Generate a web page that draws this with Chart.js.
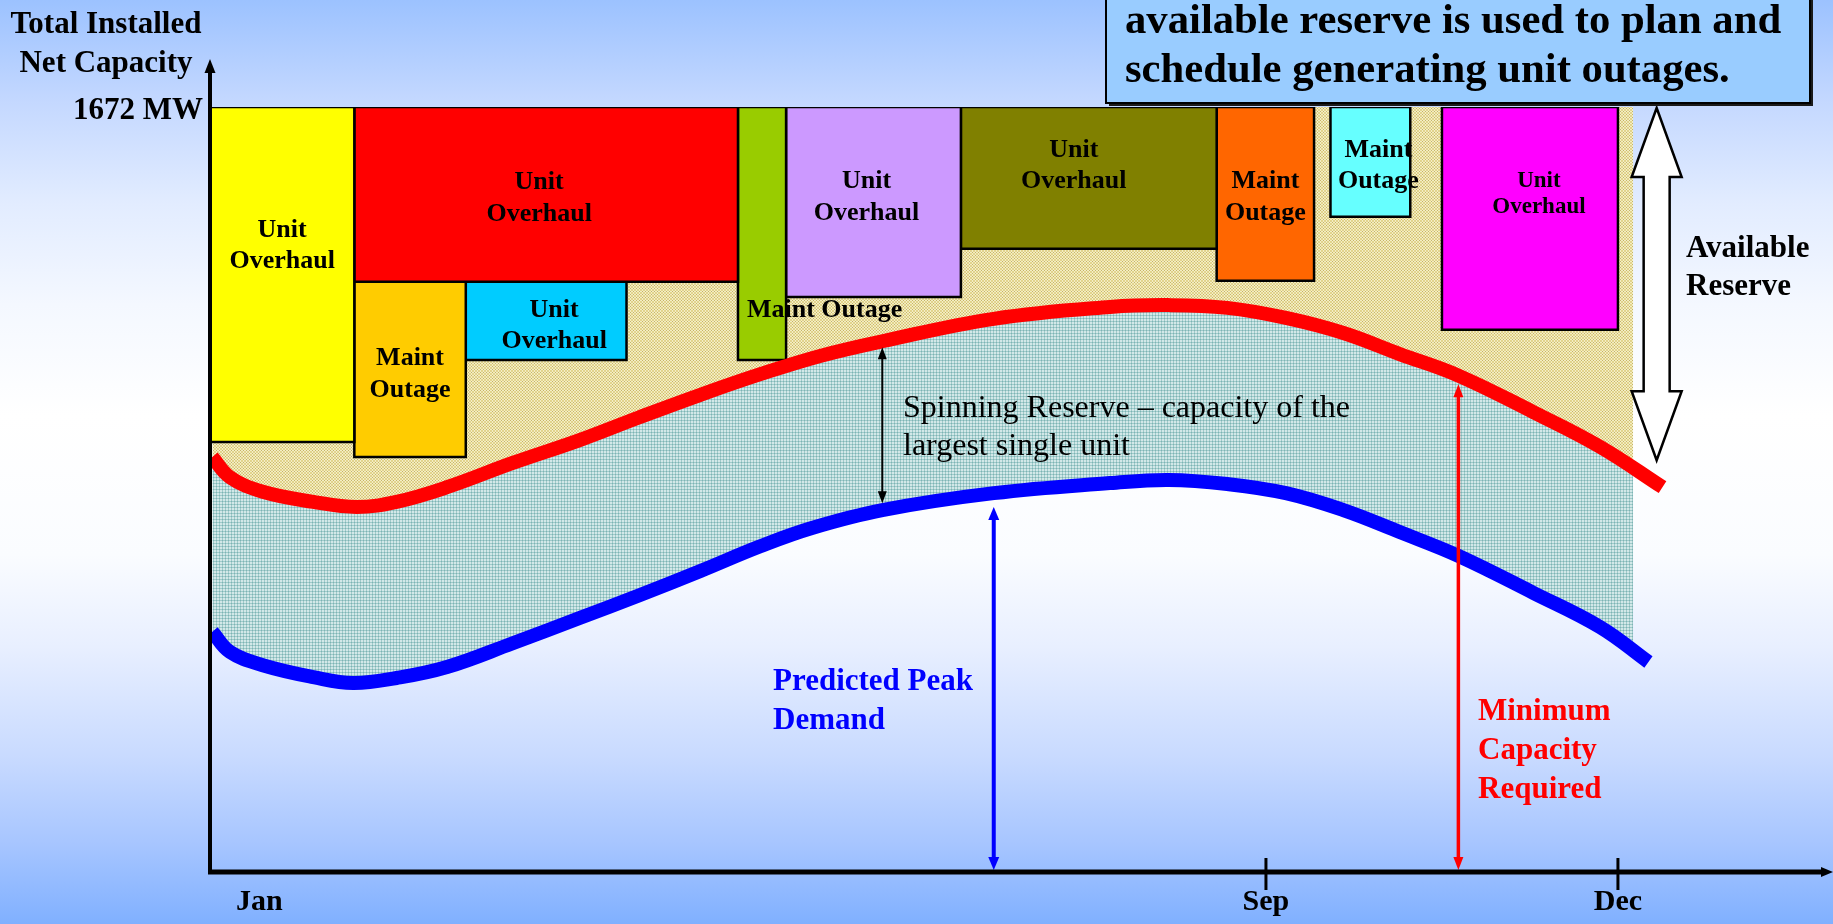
<!DOCTYPE html>
<html>
<head>
<meta charset="utf-8">
<title>Planning generating unit outages</title>
<script src="https://cdn.jsdelivr.net/npm/chart.js@4.4.1/dist/chart.umd.min.js"></script>
<style>
  html, body { margin: 0; padding: 0; overflow: hidden; }
  body {
    width: 1833px; height: 924px;
    background: linear-gradient(to bottom, #9cc2ff 0%, #c4d8ff 11%, #e2ecff 22%, #f4f8ff 33%, #ffffff 45%,
      #fafcff 60%, #e8efff 70%, #c8daff 82%, #a8c6ff 91%, #80b0ff 100%);
  }
  #wrap { position: relative; width: 1833px; height: 924px; }
</style>
</head>
<body>
<div id="wrap"><canvas id="chart"></canvas></div>
<script>
// x values are months from the start of the year, y values are MW
const installedCapacity = 1672;
const tickMonths = [0.42, 9, 12];
const tickLabels = ['Jan', 'Sep', 'Dec'];

// outage blocks hang down from the installed capacity line
const outageNames  = ['Unit Overhaul', 'Unit Overhaul', 'Maint Outage', 'Unit Overhaul', 'Maint Outage',
                      'Unit Overhaul', 'Unit Overhaul', 'Maint Outage', 'Maint Outage', 'Unit Overhaul'];
const outageStart  = [0, 1.23, 1.23, 2.18, 4.5, 4.91, 6.4, 8.58, 9.55, 10.5];
const outageEnd    = [1.23, 4.5, 2.18, 3.55, 4.91, 6.4, 8.58, 9.41, 10.23, 12.0];
const outageBottom = [940, 1290, 907, 1119, 1119, 1257, 1362, 1292, 1432, 1185];
const outageColors = ['#ffff00', '#ff0000', '#ffcc00', '#00ccff', '#99cc00',
                      '#cc99ff', '#808000', '#ff6600', '#66ffff', '#ff00ff'];

// minimum capacity required (red) and predicted peak demand (blue)
const minCapMonths = [0.02, 0.17, 0.45, 0.88, 1.25, 1.59, 2.02, 2.58, 3.15, 3.66, 4.18, 4.69, 5.2,
                      5.73, 6.68, 7.67, 8.17, 8.67, 9.17, 9.66, 10.14, 10.64, 11.28, 11.85, 12.38];
const minCapMW     = [907, 863, 831, 809, 798, 809, 841, 894, 944, 994, 1043, 1088, 1128,
                      1160, 1209, 1235, 1239, 1233, 1211, 1178, 1132, 1085, 1005, 929, 841];
const demandMonths = [0.02, 0.17, 0.45, 0.88, 1.22, 1.59, 2.02, 2.58, 3.15, 3.66, 4.18, 4.69, 5.13,
                      5.73, 6.68, 7.67, 8.17, 8.67, 9.17, 9.66, 10.14, 10.64, 11.28, 11.85, 12.26];
const demandMW     = [525, 481, 452, 426, 413, 424, 448, 500, 555, 605, 658, 712, 752,
                      791, 828, 850, 857, 848, 828, 791, 743, 691, 610, 535, 459];

// the shaded reserve bands stop a little before the curves do
const bandEndMonth = 12.13;
const bandEndMinCap = 883;
const bandEndDemand = 500;

// annotation arrows [month, lower MW, upper MW]
const spinningArrow = [5.73, 806, 1147];
const demandArrow = [6.68, 0, 798];
const minCapArrow = [10.64, 0, 1066];
const reserveArrow = [12.33, 900, 1672];

const serif = '"Liberation Serif", "Times New Roman", Times, serif';

const canvas = document.getElementById('chart');
const cctx = canvas.getContext('2d');

function makePattern(base, line, dot) {
  const tile = document.createElement('canvas');
  tile.width = 3; tile.height = 3;
  const t = tile.getContext('2d');
  t.fillStyle = base; t.fillRect(0, 0, 3, 3);
  t.fillStyle = line; t.fillRect(0, 0, 3, 1); t.fillRect(0, 0, 1, 3);
  t.fillStyle = dot; t.fillRect(0, 0, 1, 1);
  return cctx.createPattern(tile, 'repeat');
}
const reservePattern = makePattern('#e2d48e', '#f4eec4', '#c4b468');
const spinPattern = makePattern('#d2e8e8', '#a0caca', '#7cb4b4');

const toPoints = (xs, ys) => xs.map((x, i) => ({ x: x, y: ys[i] }));

function bandPoints(xs, ys, endY) {
  const pts = [];
  xs.forEach((x, i) => { if (x < bandEndMonth) pts.push({ x: x, y: ys[i] }); });
  pts.push({ x: bandEndMonth, y: endY });
  return pts;
}

const datasets = [];

// 0: available reserve band (above red curve)
datasets.push({
  label: 'reserve band',
  data: bandPoints(minCapMonths, minCapMW, bandEndMinCap),
  fill: 'end',
  backgroundColor: reservePattern,
  borderWidth: 0,
  pointRadius: 0,
  tension: 0.4,
  order: 90
});
// 1: spinning reserve band (between blue and red)
datasets.push({
  label: 'spinning band',
  data: bandPoints(demandMonths, demandMW, bandEndDemand),
  fill: 0,
  backgroundColor: spinPattern,
  borderWidth: 0,
  pointRadius: 0,
  tension: 0.4,
  order: 80
});

// outage blocks as closed outlines
outageNames.forEach((name, i) => {
  datasets.push({
    label: name,
    data: [
      { x: outageStart[i], y: outageBottom[i] },
      { x: outageStart[i], y: installedCapacity },
      { x: outageEnd[i], y: installedCapacity },
      { x: outageEnd[i], y: outageBottom[i] },
      { x: outageStart[i], y: outageBottom[i] }
    ],
    fill: 'shape',
    backgroundColor: outageColors[i],
    borderColor: '#000000',
    borderWidth: 2.5,
    borderJoinStyle: 'miter',
    borderCapStyle: 'square',
    pointRadius: 0,
    tension: 0,
    order: 50
  });
});

datasets.push({
  label: 'Minimum Capacity Required',
  data: toPoints(minCapMonths, minCapMW),
  borderColor: '#ff0000',
  borderWidth: 14,
  borderCapStyle: 'butt',
  fill: false,
  pointRadius: 0,
  tension: 0.4,
  order: 20
});
datasets.push({
  label: 'Predicted Peak Demand',
  data: toPoints(demandMonths, demandMW),
  borderColor: '#0000ff',
  borderWidth: 14,
  borderCapStyle: 'butt',
  fill: false,
  pointRadius: 0,
  tension: 0.4,
  order: 10
});

// label placement inside the blocks (offsets in px from the block centre / plot top)
const labelLayout = [
  { dx: 0, y: 130, gap: 31, size: 26 },
  { dx: -7, y: 82, gap: 32, size: 26 },
  { dx: 0, y: 258, gap: 32, size: 26 },
  { dx: 8, y: 210, gap: 31, size: 26 },
  { left: 9, y: 210, size: 26 },
  { dx: -7, y: 81, gap: 32, size: 26 },
  { dx: -15, y: 50, gap: 31, size: 26 },
  { dx: 0, y: 81, gap: 32, size: 26 },
  { dx: 8, y: 50, gap: 31, size: 26 },
  { dx: 9, y: 80, gap: 26, size: 23 }
];

function head(g, x, y, dir, w, l) {
  g.beginPath();
  g.moveTo(x, y);
  g.lineTo(x - w / 2, y + dir * l);
  g.lineTo(x + w / 2, y + dir * l);
  g.closePath();
  g.fill();
}

function vArrow(g, x, yTop, yBot, color, lw, hw, hl) {
  g.save();
  g.strokeStyle = color;
  g.fillStyle = color;
  g.lineWidth = lw;
  g.beginPath();
  g.moveTo(x, yTop + hl - 1);
  g.lineTo(x, yBot - hl + 1);
  g.stroke();
  head(g, x, yTop, 1, hw, hl);
  head(g, x, yBot, -1, hw, hl);
  g.restore();
}

function textLines(g, lines, x, y, gap, font, color, align) {
  g.save();
  g.font = font;
  g.fillStyle = color;
  g.textAlign = align || 'left';
  g.textBaseline = 'alphabetic';
  lines.forEach((s, i) => g.fillText(s, x, y + i * gap));
  g.restore();
}

const overlay = {
  id: 'overlay',
  afterDatasetsDraw(chart) {
    const g = chart.ctx;
    const xs = chart.scales.x, ys = chart.scales.y;
    const top = chart.chartArea.top;

    // block labels
    outageNames.forEach((name, i) => {
      const L = labelLayout[i];
      const font = 'bold ' + L.size + 'px ' + serif;
      if (L.left !== undefined) {
        textLines(g, [name], xs.getPixelForValue(outageStart[i]) + L.left, top + L.y, 0, font, '#000', 'left');
      } else {
        const cx = (xs.getPixelForValue(outageStart[i]) + xs.getPixelForValue(outageEnd[i])) / 2 + L.dx;
        textLines(g, name.split(' '), cx, top + L.y, L.gap, font, '#000', 'center');
      }
    });

    // spinning reserve
    const sx = xs.getPixelForValue(spinningArrow[0]);
    vArrow(g, sx, ys.getPixelForValue(spinningArrow[2]), ys.getPixelForValue(spinningArrow[1]), '#000', 2, 9, 12);
    textLines(g, ['Spinning Reserve \u2013 capacity of the', 'largest single unit'], 903, 417, 38,
      '32px ' + serif, '#000', 'left');

    // predicted peak demand
    const dx = xs.getPixelForValue(demandArrow[0]);
    vArrow(g, dx, ys.getPixelForValue(demandArrow[2]), ys.getPixelForValue(demandArrow[1]) - 2, '#0000ff', 4, 11, 13);
    textLines(g, ['Predicted Peak', 'Demand'], 773, 690, 39, 'bold 31px ' + serif, '#0000ff', 'left');

    // minimum capacity required
    const mx = xs.getPixelForValue(minCapArrow[0]);
    vArrow(g, mx, ys.getPixelForValue(minCapArrow[2]), ys.getPixelForValue(minCapArrow[1]) - 2, '#ff0000', 3.5, 10, 13);
    textLines(g, ['Minimum', 'Capacity', 'Required'], 1478, 720, 39, 'bold 31px ' + serif, '#ff0000', 'left');

    // available reserve (hollow double arrow)
    const rx = xs.getPixelForValue(reserveArrow[0]);
    const rt = ys.getPixelForValue(reserveArrow[2]) + 1;
    const rb = ys.getPixelForValue(reserveArrow[1]);
    const sw = 13, hw = 25, hl = 69;
    g.save();
    g.beginPath();
    g.moveTo(rx, rt);
    g.lineTo(rx + hw, rt + hl);
    g.lineTo(rx + sw, rt + hl);
    g.lineTo(rx + sw, rb - hl);
    g.lineTo(rx + hw, rb - hl);
    g.lineTo(rx, rb);
    g.lineTo(rx - hw, rb - hl);
    g.lineTo(rx - sw, rb - hl);
    g.lineTo(rx - sw, rt + hl);
    g.lineTo(rx - hw, rt + hl);
    g.closePath();
    g.fillStyle = '#ffffff';
    g.fill();
    g.lineWidth = 2.5;
    g.strokeStyle = '#000';
    g.lineJoin = 'miter';
    g.stroke();
    g.restore();
    textLines(g, ['Available', 'Reserve'], 1686, 257, 38, 'bold 31px ' + serif, '#000', 'left');
  },
  afterDraw(chart) {
    const g = chart.ctx;
    const a = chart.chartArea;
    const xs = chart.scales.x;
    g.save();
    g.strokeStyle = '#000';
    g.fillStyle = '#000';

    // y axis with arrow
    g.lineWidth = 4;
    g.beginPath();
    g.moveTo(a.left, a.bottom + 2);
    g.lineTo(a.left, 70);
    g.stroke();
    head(g, a.left, 59, 1, 11, 14);

    // x axis with arrow
    g.lineWidth = 5;
    g.beginPath();
    g.moveTo(a.left - 2, a.bottom);
    g.lineTo(a.right - 8, a.bottom);
    g.stroke();
    g.beginPath();
    g.moveTo(a.right, a.bottom);
    g.lineTo(a.right - 12, a.bottom - 5);
    g.lineTo(a.right - 12, a.bottom + 5);
    g.closePath();
    g.fill();

    // tick marks crossing the axis (Jan has none)
    g.lineWidth = 3;
    xs.ticks.forEach((t, i) => {
      if (i === 0) return;
      const x = xs.getPixelForValue(t.value);
      g.beginPath();
      g.moveTo(x, a.bottom - 14);
      g.lineTo(x, a.bottom + 18);
      g.stroke();
    });

    // axis title
    g.font = 'bold 31px ' + serif;
    g.textAlign = 'center';
    g.fillText('Total Installed', 106, 33);
    g.fillText('Net Capacity', 106, 72);

    // callout box
    g.fillStyle = '#1a1a1a';
    g.fillRect(1109, -60, 704, 166);
    g.fillStyle = '#99ccff';
    g.fillRect(1106, -60, 704, 163);
    g.lineWidth = 2;
    g.strokeStyle = '#000';
    g.strokeRect(1106, -60, 704, 163);
    g.fillStyle = '#000';
    g.textAlign = 'left';
    g.font = 'bold 42.7px ' + serif;
    g.fillText('available reserve is used to plan and', 1125, 33);
    g.fillText('schedule generating unit outages.', 1125, 82);
    g.restore();
  }
};

new Chart(canvas, {
  type: 'line',
  data: { datasets: datasets },
  options: {
    responsive: true,
    maintainAspectRatio: false,
    animation: false,
    events: [],
    layout: { padding: { top: 107, right: 0, bottom: 0, left: 0 } },
    plugins: {
      legend: { display: false },
      tooltip: { enabled: false },
      title: { display: false }
    },
    scales: {
      x: {
        type: 'linear',
        min: 0,
        max: 13.833,
        afterFit: s => { s.height = 52; },
        afterBuildTicks: s => { s.ticks = tickMonths.map(v => ({ value: v })); },
        ticks: {
          autoSkip: false,
          maxRotation: 0,
          padding: 12,
          color: '#000',
          font: { family: serif, size: 30, weight: 'bold' },
          callback: (v, i) => tickLabels[i]
        },
        grid: { display: false, drawTicks: false },
        border: { display: false }
      },
      y: {
        min: 0,
        max: installedCapacity,
        afterFit: s => { s.width = 210; },
        afterBuildTicks: s => { s.ticks = [{ value: installedCapacity }]; },
        ticks: {
          padding: 7,
          labelOffset: 4,
          color: '#000',
          font: { family: serif, size: 31, weight: 'bold' },
          callback: v => v + ' MW'
        },
        grid: { display: false, drawTicks: false },
        border: { display: false }
      }
    }
  },
  plugins: [overlay]
});
</script>
</body>
</html>
